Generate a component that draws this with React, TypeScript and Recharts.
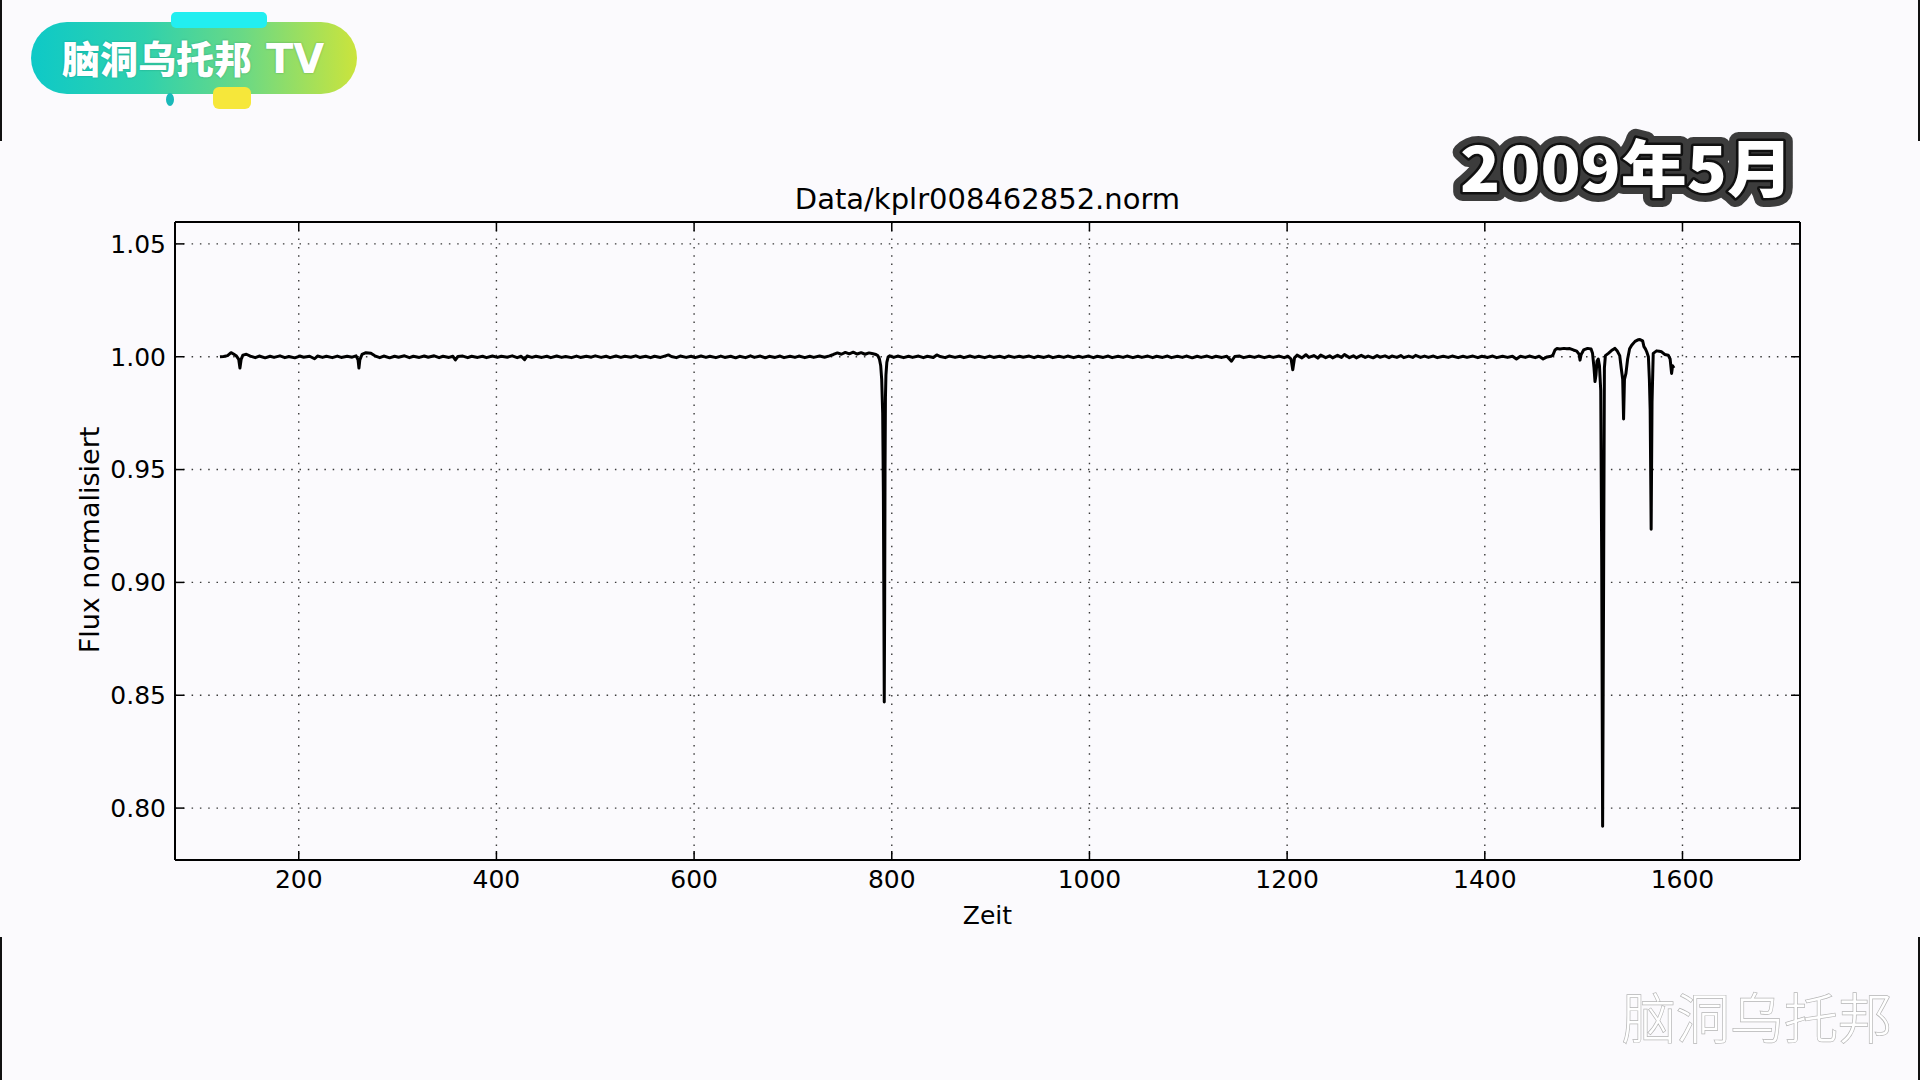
import React from "react";
import { CartesianGrid, Line, LineChart, XAxis, YAxis } from "recharts";

// Kepler light curve of KIC 8462852: [time, normalised flux]
const EARLY: [number, number][] = [
  [120.3, 1.0], [124, 1.0001], [128, 1.0005], [131.5, 1.0018], [134, 1.0012], [137, 1.0003],
  [139.3, 0.9988], [140.5, 0.995], [141.7, 0.9988], [143.5, 1.0007], [147, 1.0011], [151, 1.0003],
  [156, 0.9996], [160, 1.0003], [166, 0.9995], [171, 1.0002], [175, 0.9997], [181, 1.0004],
  [186, 0.9996], [190, 1.0001], [196, 0.9995], [201, 1.0003], [205, 0.9998], [211, 1.0002],
  [216, 0.9991], [219, 1.0003], [224, 0.9997], [228, 1.0002], [234, 0.9996], [239, 1.0003],
  [243, 0.9997], [249, 1.0002], [254, 0.9998], [258, 1.0004], [260, 0.9986], [260.9, 0.995],
  [261.8, 0.9986], [264, 1.001], [268, 1.0018], [273, 1.0015], [277, 1.0004], [282, 0.9996],
  [286, 1.0003], [292, 0.9995], [297, 1.0002], [301, 0.9998], [307, 1.0004], [312, 0.9996],
  [316, 1.0002], [322, 0.9997], [327, 1.0003], [331, 0.9998], [337, 1.0004], [342, 0.9996],
  [346, 1.0002], [352, 0.9997], [356, 1.0002], [358.5, 0.9986], [361, 1.0001], [366, 1.0003],
  [371, 0.9996], [375, 1.0002], [381, 0.9997], [386, 1.0002], [390, 0.9996], [396, 1.0003],
  [401, 0.9997], [405, 1.0002], [411, 0.9998], [416, 1.0004], [421, 0.9996], [425, 1.0002],
  [428.5, 0.9987], [431, 1.0003], [436, 0.9997], [440, 1.0002], [446, 0.9997], [451, 1.0002],
  [455, 0.9996], [461, 1.0003], [466, 0.9997], [470, 1.0001], [476, 0.9996], [481, 1.0003],
  [485, 0.9997], [491, 1.0002], [496, 0.9998], [500, 1.0004], [506, 0.9997], [511, 1.0002],
  [515, 0.9996], [521, 1.0003], [526, 0.9997], [530, 1.0002], [536, 0.9998], [541, 1.0004],
  [545, 0.9997], [551, 1.0002], [556, 0.9996], [560, 1.0002], [566, 0.9997], [571, 1.0004],
  [574, 1.0008], [577, 1.0001], [582, 0.9996], [586, 1.0003], [592, 0.9997], [597, 1.0002],
  [601, 0.9996], [607, 1.0003], [612, 0.9997], [616, 1.0002], [622, 0.9996], [627, 1.0003],
  [631, 0.9997], [637, 1.0002], [642, 0.9995], [646, 1.0002], [652, 0.9996], [657, 1.0004],
  [661, 0.9997], [667, 1.0003], [672, 0.9995], [676, 1.0002], [682, 0.9997], [687, 1.0003],
  [691, 0.9996], [697, 1.0002], [702, 0.9997], [706, 1.0003], [712, 0.9996], [717, 1.0002],
  [721, 0.9997], [727, 1.0003], [732, 0.9998], [737, 1.0004], [741, 1.001], [745, 1.0017],
  [749, 1.0011], [753, 1.0019], [757, 1.0013], [761, 1.002], [765, 1.0012], [769, 1.0018],
  [773, 1.0011], [777, 1.0017], [781, 1.0013], [784, 1.001],
];

const DIP_792: [number, number][] = [
  [786, 1.0004], [787.5, 0.999], [788.8, 0.996], [789.8, 0.99], [790.8, 0.975], [791.5, 0.94],
  [792.0, 0.89], [792.4, 0.847], [792.8, 0.89], [793.2, 0.95], [793.6, 0.982], [794.1, 0.992],
  [795, 0.9975], [796.4, 1.0], [798, 1.0004],
];

const MID: [number, number][] = [
  [802, 0.9997], [806, 1.0003], [812, 0.9996], [817, 1.0002], [821, 0.9997], [827, 1.0003],
  [832, 0.9996], [836, 1.0002], [842, 0.9997], [845.5, 1.0008], [849, 1.0001], [854, 0.9996],
  [858, 1.0003], [864, 0.9997], [869, 1.0002], [873, 0.9996], [879, 1.0003], [884, 0.9997],
  [888, 1.0002], [894, 0.9996], [899, 1.0003], [903, 0.9997], [909, 1.0002], [914, 0.9996],
  [918, 1.0003], [924, 0.9997], [929, 1.0002], [933, 0.9998], [939, 1.0003], [944, 0.9996],
  [948, 1.0002], [954, 0.9997], [959, 1.0003], [963, 0.9996], [969, 1.0002], [974, 0.9997],
  [978, 1.0003], [984, 0.9996], [989, 1.0002], [993, 0.9997], [999, 1.0003], [1004, 0.9996],
  [1008, 1.0002], [1014, 0.9997], [1019, 1.0003], [1023, 0.9996], [1029, 1.0002], [1034, 0.9997],
  [1038, 1.0003], [1044, 0.9996], [1049, 1.0002], [1053, 0.9997], [1059, 1.0003], [1064, 0.9996],
  [1068, 1.0002], [1074, 0.9997], [1079, 1.0003], [1083, 0.9996], [1089, 1.0002], [1094, 0.9997],
  [1098, 1.0003], [1104, 0.9995], [1109, 1.0002], [1113, 0.9997], [1119, 1.0003], [1124, 0.9996],
  [1128, 1.0002], [1134, 0.9997], [1139, 1.0002], [1143.7, 0.998], [1147, 1.0001], [1152, 1.0003],
  [1156, 0.9996], [1162, 1.0002], [1167, 0.9997], [1171, 1.0003], [1177, 0.9996], [1182, 1.0002],
  [1186, 0.9997], [1192, 1.0003], [1197, 0.9996], [1201, 1.0002], [1204, 0.999], [1205.7, 0.9942],
  [1207.5, 0.9995], [1210, 1.0007], [1215, 0.9995], [1219, 1.0009], [1222, 0.9997], [1227, 1.0005],
  [1231, 0.9994], [1234, 1.0007], [1239, 0.9996], [1243, 1.0004], [1246, 0.9995], [1251, 1.0006],
  [1255, 0.9997], [1258, 1.001], [1263, 0.9996], [1267, 1.0004], [1270, 0.9995], [1275, 1.0006],
  [1279, 0.9997], [1282, 1.0003], [1287, 0.9995], [1291, 1.0005], [1294, 0.9998], [1299, 1.0004],
  [1303, 0.9996], [1306, 1.0003], [1311, 0.9997], [1315, 1.0005], [1318, 0.9996], [1323, 1.0003],
  [1327, 0.9997], [1330, 1.0006], [1335, 0.9997], [1339, 1.0003], [1343, 0.9997], [1348, 1.0003],
  [1352, 0.9996], [1358, 1.0002], [1363, 0.9997], [1367, 1.0003], [1373, 0.9996], [1378, 1.0002],
  [1382, 0.9997], [1388, 1.0003], [1393, 0.9996], [1397, 1.0002], [1403, 0.9997], [1408, 1.0003],
  [1412, 0.9996], [1418, 1.0002], [1423, 0.9997], [1428, 1.0002], [1432, 0.999], [1436, 1.0002],
  [1441, 0.9997], [1445, 1.0003], [1451, 0.9996], [1455, 1.0002], [1459, 0.999], [1463, 0.9999],
  [1467, 1.0002],
];

const LATE: [number, number][] = [
  [1469, 1.0008], [1471, 1.003], [1473, 1.0036], [1476, 1.0034], [1480, 1.0037], [1483, 1.0035],
  [1486, 1.0036], [1489.6, 1.003], [1493, 1.0025], [1495.5, 1.001], [1496.3, 0.9985], [1497.5, 1.001],
  [1500, 1.003], [1504, 1.0037], [1507.5, 1.0034], [1509, 1.0015], [1510.5, 0.995], [1511.5, 0.989],
  [1512.5, 0.992], [1513.5, 0.998], [1514.8, 0.999], [1516, 0.996], [1517.3, 0.985], [1518.3, 0.907],
  [1519.2, 0.792], [1520.2, 0.9], [1521, 0.995], [1522, 1.0005], [1525, 1.0015], [1529, 1.003],
  [1531.7, 1.0037], [1534, 1.0025], [1536.5, 1.0005], [1538, 0.995], [1539.5, 0.99], [1540.4, 0.9724],
  [1541.3, 0.99], [1542.8, 0.9926], [1544.5, 0.999], [1546.5, 1.0035], [1548.6, 1.0051], [1552, 1.0068],
  [1555, 1.0075], [1557, 1.0076], [1559.7, 1.007], [1561, 1.0045], [1562.5, 1.0035], [1563.8, 1.0022],
  [1565.5, 1.0], [1566.5, 0.99], [1567.3, 0.9765], [1568.3, 0.9236], [1569.2, 0.98], [1570.4, 1.0015],
  [1573.8, 1.0026], [1576.5, 1.0024], [1578.9, 1.0022], [1582, 1.001], [1585.6, 1.0007], [1587.5, 0.999],
  [1589, 0.9926], [1590, 0.996], [1591.4, 0.995],
];

const X_TICKS = [200, 400, 600, 800, 1000, 1200, 1400, 1600];
const Y_TICKS = [0.8, 0.85, 0.9, 0.95, 1.0, 1.05];
const X_DOMAIN: [number, number] = [74.8, 1718.9];
const Y_DOMAIN: [number, number] = [0.777, 1.0597];

const TITLE = "Data/kplr008462852.norm";
const X_LABEL = "Zeit";
const Y_LABEL = "Flux normalisiert";
const DATE_TAG = "2009年5月";
const BRAND = "脑洞乌托邦";
const LOGO_TEXT = "脑洞乌托邦";
const LOGO_TV = "TV";

const lightCurve = [...EARLY, ...DIP_792, ...MID, ...LATE].map(([t, flux]) => ({ t, flux }));

const MPL_FONT = "'DejaVu Sans', sans-serif";
const CJK_FONT = "'Noto Sans CJK SC', sans-serif";
const tickStyle = { fill: "#000", fontSize: 25, fontFamily: MPL_FONT };
const frameLine = { stroke: "#000", strokeWidth: 2 };
const tickMark = { stroke: "#000", strokeWidth: 1.5 };

function EdgeBar({ left, top, height }: { left: number; top: number; height: number }) {
  return <div style={{ position: "absolute", left, top, width: 2, height, background: "#111" }} />;
}

function Logo() {
  return (
    <>
      <div style={{ position: "absolute", left: 31, top: 22, width: 326, height: 72, borderRadius: 36,
        background: "linear-gradient(90deg, #0ec9c7 0%, #2fd1ad 35%, #6ad985 65%, #cbe43c 100%)" }} />
      <div style={{ position: "absolute", left: 171, top: 12, width: 96, height: 16, borderRadius: 5, background: "#22eef0" }} />
      <div style={{ position: "absolute", left: 213, top: 87, width: 38, height: 22, borderRadius: 6, background: "#f6e73a" }} />
      <div style={{ position: "absolute", left: 166, top: 93, width: 8, height: 13, borderRadius: "50%", background: "#19b9b9" }} />
      <div style={{ position: "absolute", left: 62, top: 37, fontFamily: CJK_FONT, fontWeight: 900, fontSize: 38,
        lineHeight: "40px", letterSpacing: 0, color: "#fff", whiteSpace: "nowrap",
        textShadow: "0 0 2px rgba(0,90,80,0.45)" }}>
        {LOGO_TEXT}
        <span style={{ marginLeft: 14, fontFamily: "'DejaVu Sans', sans-serif", fontWeight: 700, fontSize: 40 }}>{LOGO_TV}</span>
      </div>
    </>
  );
}

export default function App() {
  return (
    <div style={{ position: "absolute", left: 0, top: 0, width: 1920, height: 1080, background: "#fbfafd", overflow: "hidden" }}>
      <LineChart width={1920} height={1080} data={lightCurve} margin={{ top: 220, right: 118, bottom: 180, left: 95 }}>
        <CartesianGrid stroke="#3a3a3a" strokeWidth={1.4} strokeDasharray="1.5 6.8" />
        <XAxis
          dataKey="t"
          type="number"
          domain={X_DOMAIN}
          allowDataOverflow
          ticks={X_TICKS}
          interval={0}
          height={40}
          tick={tickStyle}
          tickSize={-9}
          tickMargin={19}
          axisLine={frameLine}
          tickLine={tickMark}
        />
        <XAxis
          xAxisId="top"
          dataKey="t"
          orientation="top"
          type="number"
          domain={X_DOMAIN}
          allowDataOverflow
          ticks={X_TICKS}
          interval={0}
          height={2}
          tickSize={-9}
          tickFormatter={() => ""}
          axisLine={frameLine}
          tickLine={tickMark}
        />
        <YAxis
          type="number"
          domain={Y_DOMAIN}
          allowDataOverflow
          ticks={Y_TICKS}
          interval={0}
          width={80}
          tick={tickStyle}
          tickSize={-9}
          tickMargin={18}
          tickFormatter={(v: number) => v.toFixed(2)}
          axisLine={frameLine}
          tickLine={tickMark}
        />
        <YAxis
          yAxisId="right"
          orientation="right"
          type="number"
          domain={Y_DOMAIN}
          allowDataOverflow
          ticks={Y_TICKS}
          interval={0}
          width={2}
          tickSize={-9}
          tickFormatter={() => ""}
          axisLine={frameLine}
          tickLine={tickMark}
        />
        {/* invisible twin so the mirrored top/right axes have a series */}
        <Line
          xAxisId="top"
          yAxisId="right"
          type="linear"
          dataKey="flux"
          stroke="none"
          dot={false}
          activeDot={false}
          isAnimationActive={false}
        />
        <Line
          type="linear"
          dataKey="flux"
          stroke="#000"
          strokeWidth={3}
          strokeLinejoin="round"
          dot={false}
          activeDot={false}
          isAnimationActive={false}
        />
      </LineChart>

      <svg width={1920} height={1080} style={{ position: "absolute", left: 0, top: 0, pointerEvents: "none" }}>
        <text x={987.5} y={209} textAnchor="middle" fontFamily={MPL_FONT} fontSize={29} fill="#000">{TITLE}</text>
        <text x={987.5} y={924} textAnchor="middle" fontFamily={MPL_FONT} fontSize={25} fill="#000">{X_LABEL}</text>
        <text transform="translate(99, 540) rotate(-90)" textAnchor="middle" fontFamily={MPL_FONT} fontSize={27} fill="#000">
          {Y_LABEL}
        </text>
        <text x={1460} y={192} fontFamily={CJK_FONT} fontWeight={900} fontSize={62} textLength={333}
          lengthAdjust="spacingAndGlyphs" fill="#fff" stroke="#3c3c3c" strokeWidth={18} strokeLinejoin="round"
          paintOrder="stroke">
          {DATE_TAG}
        </text>
        <text x={1460} y={192} fontFamily={CJK_FONT} fontWeight={900} fontSize={62} textLength={333}
          lengthAdjust="spacingAndGlyphs" fill="#fff" stroke="#111" strokeWidth={5} strokeLinejoin="round"
          paintOrder="stroke">
          {DATE_TAG}
        </text>
        <text x={1622} y={1039} fontFamily={CJK_FONT} fontWeight={300} fontSize={54} fill="#fff"
          stroke="#b5b5b5" strokeWidth={1.4} paintOrder="stroke">
          {BRAND}
        </text>
      </svg>

      <Logo />
      <EdgeBar left={0} top={0} height={141} />
      <EdgeBar left={0} top={937} height={143} />
      <EdgeBar left={1918} top={0} height={141} />
      <EdgeBar left={1918} top={937} height={143} />
    </div>
  );
}
